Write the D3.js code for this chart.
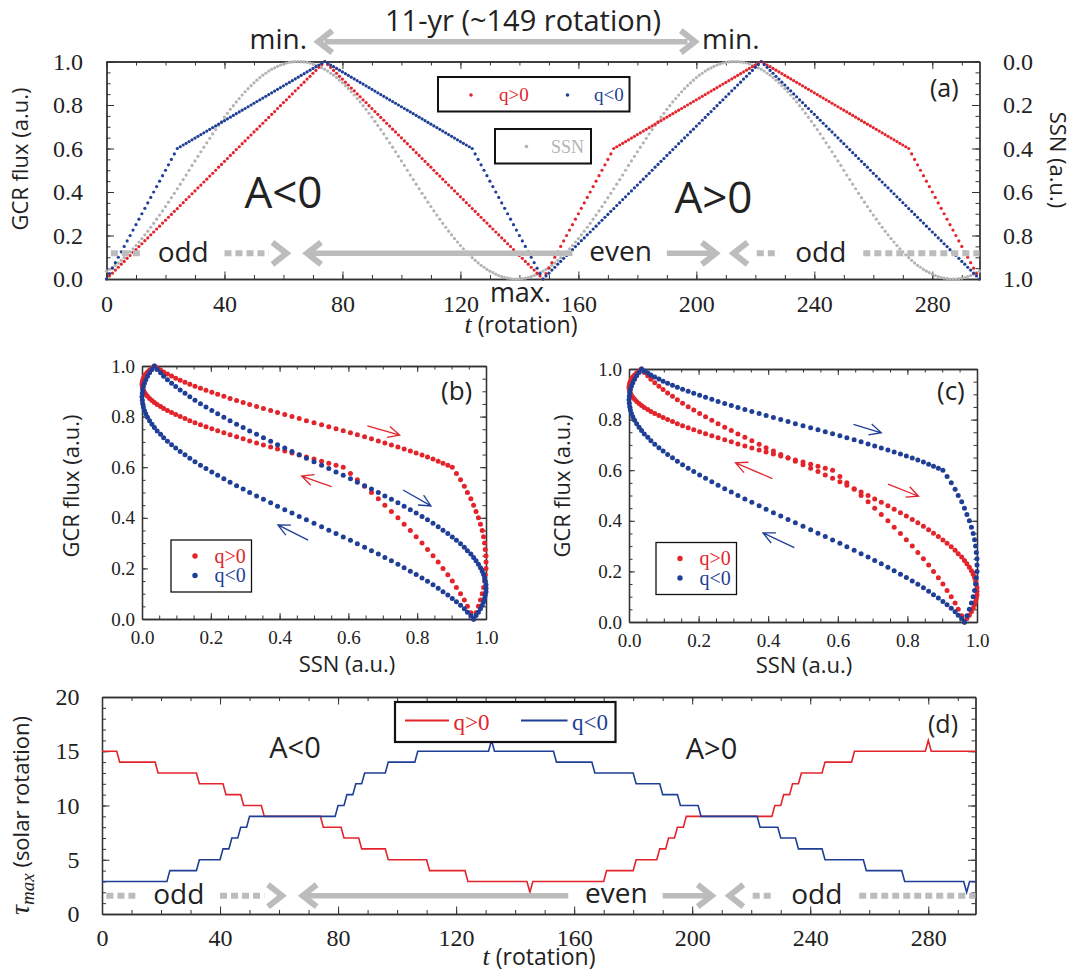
<!DOCTYPE html>
<html>
<head>
<meta charset="utf-8">
<script src="https://cdn.jsdelivr.net/npm/d3@7"></script>
<style>
  body { margin: 0; background: #fff; }
  svg { display: block; }
</style>
</head>
<body>
<svg id="fig" width="1075" height="980"></svg>
<script>
// ---------- data ----------
// one sample per solar rotation, t = 0 .. 296

// sunspot number (a.u.), grey dots of panel (a)
const ssn = [
  .964,.956,.946,.937,.926,.914,.902,.889,.875,.861,
  .846,.830,.814,.797,.780,.762,.744,.725,.706,.687,
  .667,.647,.626,.606,.585,.564,.543,.522,.500,.478,
  .457,.436,.415,.394,.374,.353,.333,.313,.294,.275,
  .256,.238,.220,.203,.186,.170,.154,.139,.125,.111,
  .098,.086,.074,.063,.054,.044,.036,.029,.022,.016,
  .011,.007,.004,.002,.001,0,
  .001,.002,.004,.007,.011,.016,.022,.029,.036,.044,
  .054,.063,.074,.086,.098,.111,.125,.139,.154,.170,
  .186,.203,.220,.238,.256,.275,.294,.313,.333,.353,
  .374,.394,.415,.436,.457,.478,.500,.522,.543,.564,
  .585,.606,.626,.647,.667,.687,.706,.725,.744,.762,
  .780,.797,.814,.830,.846,.861,.875,.889,.902,.914,
  .926,.937,.946,.956,.964,.971,.978,.984,.989,.993,
  .996,.998,1,1,
  1,.998,.996,.993,.989,.984,.978,.971,.964,.956,
  .946,.937,.926,.914,.902,.889,.875,.861,.846,.830,
  .814,.797,.780,.762,.744,.725,.706,.687,.667,.647,
  .626,.606,.585,.564,.543,.522,.500,.478,.457,.436,
  .415,.394,.374,.353,.333,.313,.294,.275,.256,.238,
  .220,.203,.186,.170,.154,.139,.125,.111,.098,.086,
  .074,.063,.054,.044,.036,.029,.022,.016,.011,.007,
  .004,.002,.001,0,
  .001,.002,.004,.007,.011,.016,.022,.029,.036,.044,
  .054,.063,.074,.086,.098,.111,.125,.139,.154,.170,
  .186,.203,.220,.238,.256,.275,.294,.313,.333,.353,
  .374,.394,.415,.436,.457,.478,.500,.522,.543,.564,
  .585,.606,.626,.647,.667,.687,.706,.725,.744,.762,
  .780,.797,.814,.830,.846,.861,.875,.889,.902,.914,
  .926,.937,.946,.956,.964,.971,.978,.984,.989,.993,
  .996,.998,1,1,
  1,.998,.996,.993,.989,.984,.978,.971,.964
];

// GCR flux (a.u.), q>0 (red)
const fluxPos = [
  0,.014,.027,.041,.054,.068,.081,.095,.108,.122,
  .135,.149,.162,.176,.189,.203,.216,.230,.243,.257,
  .270,.284,.297,.311,.324,.338,.351,.365,.378,.392,
  .405,.419,.432,.446,.459,.473,.486,.500,.514,.527,
  .541,.554,.568,.581,.595,.608,.622,.635,.649,.662,
  .676,.689,.703,.716,.730,.743,.757,.770,.784,.797,
  .811,.824,.838,.851,.865,.878,.892,.905,.919,.932,
  .946,.959,.973,.986,1,
  .986,.973,.959,.946,.932,.919,.905,.892,.878,.865,
  .851,.838,.824,.811,.797,.784,.770,.757,.743,.730,
  .716,.703,.689,.676,.662,.649,.635,.622,.608,.595,
  .581,.568,.554,.541,.527,.514,.500,.486,.473,.459,
  .446,.432,.419,.405,.392,.378,.365,.351,.338,.324,
  .311,.297,.284,.270,.257,.243,.230,.216,.203,.189,
  .176,.162,.149,.135,.122,.108,.095,.081,.068,.054,
  .041,.027,.014,0,
  .025,.050,.075,.100,.125,.150,.175,.200,.225,.250,
  .275,.300,.325,.350,.375,.400,.425,.450,.475,.500,
  .525,.550,.575,.600,
  .608,.616,.624,.632,.640,.648,.656,.664,.672,.680,
  .688,.696,.704,.712,.720,.728,.736,.744,.752,.760,
  .768,.776,.784,.792,.800,.808,.816,.824,.832,.840,
  .848,.856,.864,.872,.880,.888,.896,.904,.912,.920,
  .928,.936,.944,.952,.960,.968,.976,.984,.992,1,
  .992,.984,.976,.968,.960,.952,.944,.936,.928,.920,
  .912,.904,.896,.888,.880,.872,.864,.856,.848,.840,
  .832,.824,.816,.808,.800,.792,.784,.776,.768,.760,
  .752,.744,.736,.728,.720,.712,.704,.696,.688,.680,
  .672,.664,.656,.648,.640,.632,.624,.616,.608,.600,
  .575,.550,.525,.500,.475,.450,.425,.400,.375,.350,
  .325,.300,.275,.250,.225,.200,.175,.150,.125,.100,
  .075,.050,.025,0
];

// GCR flux (a.u.), q<0 (blue)
const fluxNeg = [
  0,.025,.050,.075,.100,.125,.150,.175,.200,.225,
  .250,.275,.300,.325,.350,.375,.400,.425,.450,.475,
  .500,.525,.550,.575,.600,
  .608,.616,.624,.632,.640,.648,.656,.664,.672,.680,
  .688,.696,.704,.712,.720,.728,.736,.744,.752,.760,
  .768,.776,.784,.792,.800,.808,.816,.824,.832,.840,
  .848,.856,.864,.872,.880,.888,.896,.904,.912,.920,
  .928,.936,.944,.952,.960,.968,.976,.984,.992,1,
  .992,.984,.976,.968,.960,.952,.944,.936,.928,.920,
  .912,.904,.896,.888,.880,.872,.864,.856,.848,.840,
  .832,.824,.816,.808,.800,.792,.784,.776,.768,.760,
  .752,.744,.736,.728,.720,.712,.704,.696,.688,.680,
  .672,.664,.656,.648,.640,.632,.624,.616,.608,.600,
  .575,.550,.525,.500,.475,.450,.425,.400,.375,.350,
  .325,.300,.275,.250,.225,.200,.175,.150,.125,.100,
  .075,.050,.025,0,
  .014,.027,.041,.054,.068,.081,.095,.108,.122,
  .135,.149,.162,.176,.189,.203,.216,.230,.243,.257,
  .270,.284,.297,.311,.324,.338,.351,.365,.378,.392,
  .405,.419,.432,.446,.459,.473,.486,.500,.514,.527,
  .541,.554,.568,.581,.595,.608,.622,.635,.649,.662,
  .676,.689,.703,.716,.730,.743,.757,.770,.784,.797,
  .811,.824,.838,.851,.865,.878,.892,.905,.919,.932,
  .946,.959,.973,.986,1,
  .986,.973,.959,.946,.932,.919,.905,.892,.878,.865,
  .851,.838,.824,.811,.797,.784,.770,.757,.743,.730,
  .716,.703,.689,.676,.662,.649,.635,.622,.608,.595,
  .581,.568,.554,.541,.527,.514,.500,.486,.473,.459,
  .446,.432,.419,.405,.392,.378,.365,.351,.338,.324,
  .311,.297,.284,.270,.257,.243,.230,.216,.203,.189,
  .176,.162,.149,.135,.122,.108,.095,.081,.068,.054,
  .041,.027,.014,0
];

// loops of panels (b) and (c): [flux series, first t, last t]
const loopB = {
  pos: [[fluxPos, 148, 296]],
  neg: [[fluxNeg, 148, 296]]
};
const loopC = {
  pos: [[fluxNeg, 0, 73], [fluxPos, 74, 148]],
  neg: [[fluxPos, 0, 73], [fluxNeg, 74, 148]]
};

// tau_max (solar rotation), corner points [t, tau] of the step lines
const tauPos = [
  [0,15],[5,15],[6,14],[18,14],[19,13],[32,13],[33,12],[41,12],[42,11],[47,11],[48,10],
  [54,10],[55,9],[74,9],[75,8],[81,8],[82,7],[87,7],[88,6],[96,6],[97,5],[110,5],[111,4],
  [123,4],[124,3],[144,3],[145,2],[146,3],[170,3],[171,4],[180,4],[181,5],[188,5],[189,6],
  [191,6],[192,7],[194,7],[195,8],[197,8],[198,9],[227,9],[228,10],[230,10],[231,11],
  [233,11],[234,12],[236,12],[237,13],[244,13],[245,14],[254,14],[255,15],[279,15],
  [280,16],[281,15],[296,15]
];
const tauNeg = [
  [0,3],[22,3],[23,4],[32,4],[33,5],[40,5],[41,6],[43,6],[44,7],[46,7],[47,8],[49,8],[50,9],
  [79,9],[80,10],[82,10],[83,11],[85,11],[86,12],[88,12],[89,13],[96,13],[97,14],[106,14],
  [107,15],[131,15],[132,16],[133,15],[153,15],[154,14],[166,14],[167,13],[180,13],[181,12],
  [189,12],[190,11],[195,11],[196,10],[202,10],[203,9],[222,9],[223,8],[229,8],[230,7],
  [235,7],[236,6],[244,6],[245,5],[258,5],[259,4],[271,4],[272,3],[292,3],[293,2],[294,3],
  [296,3]
];

// tick values
const tTicks = [0, 40, 80, 120, 160, 200, 240, 280];
const tMinor = d3.range(0, 297, 10);
const unitTicks = [0, 0.2, 0.4, 0.6, 0.8, 1.0];
const unitMinor = d3.range(0, 21).map(i => i / 20);
const tauTicks = [0, 5, 10, 15, 20];
const tauMinor = d3.range(0, 21);

// ---------- styling ----------
const RED = "#e3242b", BLUE = "#1f3f97", GREY = "#b3b3b3", ARROW = "#bcbcbc", INK = "#222";
const SERIF = "'Liberation Serif','Times New Roman',serif";
const SANS = "'Open Sans',sans-serif";

const svg = d3.select("#fig");

// box with inward ticks on four sides
function frame(x, y, o) {
  const g = svg.append("g");
  const [xl, xr] = x.range(), [yb, yt] = y.range();
  const put = (axis, tr, ticks, len, fmt, pad) => {
    const a = g.append("g").attr("transform", tr)
      .call(axis.tickValues(ticks).tickSize(-len).tickSizeOuter(0)
        .tickPadding(pad || 3).tickFormat(fmt || (() => "")));
    a.attr("font-family", SERIF).attr("font-size", o.fs).attr("color", "#333");
    a.select(".domain").attr("stroke-width", 1.3);
    a.selectAll("text").attr("fill", INK);
  };
  const y2 = o.y2 || y;
  put(d3.axisBottom(x), `translate(0,${yb})`, o.xMinor, o.minor);
  put(d3.axisBottom(x), `translate(0,${yb})`, o.xMajor, o.major, o.xFmt, o.xPad);
  put(d3.axisTop(x), `translate(0,${yt})`, o.xMinor, o.minor);
  put(d3.axisTop(x), `translate(0,${yt})`, o.xMajor, o.major);
  put(d3.axisLeft(y), `translate(${xl},0)`, o.yMinor, o.minor);
  put(d3.axisLeft(y), `translate(${xl},0)`, o.yMajor, o.major, o.yFmt, o.yPad);
  put(d3.axisRight(y2), `translate(${xr},0)`, o.yMinor, o.minor);
  put(d3.axisRight(y2), `translate(${xr},0)`, o.yMajor, o.major, o.y2Fmt, o.yPad);
  return g;
}

function text(x, y, s, o) {
  return svg.append("text").attr("x", x).attr("y", y)
    .attr("font-family", o.ff || SANS).attr("font-size", o.fs)
    .attr("fill", o.fill || INK).attr("text-anchor", o.anchor || "start")
    .attr("font-style", o.italic ? "italic" : null).text(s);
}

function vtext(x, y, s, fs, rot) {
  return svg.append("text").attr("transform", `translate(${x},${y}) rotate(${rot || -90})`)
    .attr("text-anchor", "middle").attr("font-family", SANS).attr("font-size", fs)
    .attr("fill", INK).text(s);
}

function tTitle(x, y, fs) {
  const t = svg.append("text").attr("x", x).attr("y", y).attr("text-anchor", "middle")
    .attr("font-family", SANS).attr("font-size", fs).attr("fill", INK);
  t.append("tspan").attr("font-family", SERIF).attr("font-style", "italic").attr("font-size", fs + 3).text("t");
  t.append("tspan").text(" (rotation)");
}

// grey annotation arrows
function bar(x, t0, t1, y, dotted) {
  svg.append("line").attr("x1", x(t0)).attr("x2", x(t1)).attr("y1", y).attr("y2", y)
    .attr("stroke", ARROW).attr("stroke-width", dotted ? 6 : 5.5)
    .attr("stroke-dasharray", dotted ? "7,4" : null);
}
function chevron(x, t, y, dir) {
  // dir = +1 points right, -1 points left
  const px = x(t), dx = 14 * dir, dy = 11;
  svg.append("path").attr("d", `M${px - dx},${y - dy}L${px},${y}L${px - dx},${y + dy}`)
    .attr("fill", "none").attr("stroke", ARROW).attr("stroke-width", 6);
}
function cycleRow(x, y, fs) {
  bar(x, 1.5, 11.3, y, true);
  text(x(26), y + 8.5, "odd", { fs, anchor: "middle" });
  bar(x, 40, 55, y, true);
  chevron(x, 61, y, 1);
  chevron(x, 68, y, -1);
  bar(x, 69, 158, y, false);
  text(x(174.3), y + 7.5, "even", { fs, anchor: "middle" });
  bar(x, 190, 205.5, y, false);
  chevron(x, 206.6, y, 1);
  chevron(x, 212.6, y, -1);
  bar(x, 220.5, 228, y, true);
  text(x(242.2), y + 8.5, "odd", { fs, anchor: "middle" });
  bar(x, 256.6, 296, y, true);
}

// ---------- panel (a) ----------
const xA = d3.scaleLinear([0, 296], [106.5, 979.5]);
const yA = d3.scaleLinear([0, 1], [279, 61.5]);
const ssnA = d3.scaleLinear([0, 1], [61.5, 279]);

frame(xA, yA, {
  fs: 24, major: 7.5, minor: 4,
  xMajor: tTicks, xMinor: tMinor, xFmt: d3.format("d"), xPad: 16,
  yMajor: unitTicks, yMinor: unitMinor, yFmt: d3.format(".1f"), yPad: 23.5,
  y2: ssnA, y2Fmt: d3.format(".1f")
});

const ts = d3.range(ssn.length);
const dotsA = svg.append("g");
dotsA.selectAll(".s").data(ts).join("circle")
  .attr("cx", t => xA(t)).attr("cy", t => ssnA(ssn[t])).attr("r", 1.6).attr("fill", GREY);
dotsA.selectAll(".p").data(ts).join("circle")
  .attr("cx", t => xA(t)).attr("cy", t => yA(fluxPos[t])).attr("r", 1.6).attr("fill", RED);
dotsA.selectAll(".n").data(ts).join("circle")
  .attr("cx", t => xA(t)).attr("cy", t => yA(fluxNeg[t])).attr("r", 1.6).attr("fill", BLUE);

// legends of (a)
svg.append("rect").attr("x", 438).attr("y", 77).attr("width", 191.5).attr("height", 34.5)
  .attr("fill", "#fff").attr("stroke", "#111").attr("stroke-width", 2);
svg.append("circle").attr("cx", 471).attr("cy", 95).attr("r", 1.8).attr("fill", RED);
text(499, 100.5, "q>0", { ff: SERIF, fs: 19, fill: RED });
svg.append("circle").attr("cx", 567.5).attr("cy", 95).attr("r", 1.8).attr("fill", BLUE);
text(594, 100.5, "q<0", { ff: SERIF, fs: 19, fill: BLUE });

svg.append("rect").attr("x", 495).attr("y", 129).attr("width", 96).attr("height", 34.5)
  .attr("fill", "#fff").attr("stroke", "#111").attr("stroke-width", 2);
svg.append("circle").attr("cx", 526.5).attr("cy", 146.5).attr("r", 1.8).attr("fill", GREY);
text(551, 152.5, "SSN", { ff: SERIF, fs: 18, fill: GREY });

// annotations of (a)
text(523, 31, "11-yr (~149 rotation)", { fs: 29, anchor: "middle" });
bar(xA, 74, 197, 41.7, false);
chevron(xA, 71.8, 41.7, -1);
chevron(xA, 199.5, 41.7, 1);
text(307, 49, "min.", { fs: 28, anchor: "end" });
text(702, 49, "min.", { fs: 28 });
text(xA(60), 208, "A<0", { fs: 44, anchor: "middle" });
text(xA(205.8), 213, "A>0", { fs: 44, anchor: "middle" });
text(930, 97, "(a)", { fs: 25 });
cycleRow(xA, 253.3, 28);
text(520.5, 302, "max.", { fs: 27, anchor: "middle" });
tTitle(521, 333, 23);
vtext(28, 159, "GCR flux (a.u.)", 22);
vtext(1050, 160, "SSN (a.u.)", 22, 90);

// ---------- panels (b) and (c) ----------
function loopPanel(x, y, loop) {
  frame(x, y, {
    fs: 19, major: 6, minor: 3.5,
    xMajor: unitTicks, xMinor: unitMinor, xFmt: d3.format(".1f"), xPad: 12,
    yMajor: unitTicks, yMinor: unitMinor, yFmt: d3.format(".1f"), yPad: 7
  });
  const pairs = parts => parts.flatMap(([f, a, b]) => d3.range(a, b + 1).map(t => [ssn[t], f[t]]));
  const g = svg.append("g");
  g.selectAll(".p").data(pairs(loop.pos)).join("circle")
    .attr("cx", d => x(d[0])).attr("cy", d => y(d[1])).attr("r", 2.5).attr("fill", RED);
  g.selectAll(".n").data(pairs(loop.neg)).join("circle")
    .attr("cx", d => x(d[0])).attr("cy", d => y(d[1])).attr("r", 2.5).attr("fill", BLUE);
}

function loopArrow(x, y, from, to, color) {
  const x0 = x(from[0]), y0 = y(from[1]), x1 = x(to[0]), y1 = y(to[1]);
  const a = Math.atan2(y1 - y0, x1 - x0), L = 13, s = 0.45;
  const p = da => [x1 - L * Math.cos(a + da), y1 - L * Math.sin(a + da)];
  const [l, r] = [p(s), p(-s)];
  svg.append("path").attr("d", `M${x0},${y0}L${x1},${y1}M${l}L${x1},${y1}L${r}`)
    .attr("fill", "none").attr("stroke", color).attr("stroke-width", 1.3);
}

function loopLegend(x, y) {
  svg.append("rect").attr("x", x).attr("y", y).attr("width", 80.5).attr("height", 52)
    .attr("fill", "#fff").attr("stroke", "#111").attr("stroke-width", 1.3);
  svg.append("circle").attr("cx", x + 24).attr("cy", y + 16).attr("r", 2.7).attr("fill", RED);
  text(x + 43.5, y + 22.5, "q>0", { ff: SERIF, fs: 20, fill: RED });
  svg.append("circle").attr("cx", x + 24).attr("cy", y + 35.5).attr("r", 2.7).attr("fill", BLUE);
  text(x + 43.5, y + 42, "q<0", { ff: SERIF, fs: 20, fill: BLUE });
}

const xB = d3.scaleLinear([0, 1], [142, 486]);
const yB = d3.scaleLinear([0, 1], [619, 366]);
loopPanel(xB, yB, loopB);
loopArrow(xB, yB, [0.655, 0.763], [0.749, 0.727], RED);
loopArrow(xB, yB, [0.551, 0.523], [0.464, 0.565], RED);
loopArrow(xB, yB, [0.759, 0.51], [0.84, 0.447], BLUE);
loopArrow(xB, yB, [0.483, 0.312], [0.395, 0.372], BLUE);
loopLegend(171, 540);
text(441, 400, "(b)", { fs: 26 });
vtext(79, 486, "GCR flux (a.u.)", 22);
text(347, 672, "SSN (a.u.)", { fs: 22, anchor: "middle" });

const xC = d3.scaleLinear([0, 1], [629, 977]);
const yC = d3.scaleLinear([0, 1], [622, 369]);
loopPanel(xC, yC, loopC);
loopArrow(xC, yC, [0.645, 0.781], [0.725, 0.748], BLUE);
loopArrow(xC, yC, [0.412, 0.567], [0.306, 0.629], RED);
loopArrow(xC, yC, [0.744, 0.545], [0.832, 0.497], RED);
loopArrow(xC, yC, [0.475, 0.294], [0.385, 0.352], BLUE);
loopLegend(656, 542.5);
text(937, 400, "(c)", { fs: 26 });
vtext(570, 486, "GCR flux (a.u.)", 22);
text(804, 673, "SSN (a.u.)", { fs: 22, anchor: "middle" });

// ---------- panel (d) ----------
const xD = d3.scaleLinear([0, 296], [102, 975.5]);
const yD = d3.scaleLinear([0, 20], [914, 697]);

frame(xD, yD, {
  fs: 24, major: 7.5, minor: 4,
  xMajor: tTicks, xMinor: tMinor, xFmt: d3.format("d"), xPad: 15,
  yMajor: tauTicks, yMinor: tauMinor, yFmt: d3.format("d"), yPad: 22.5
});

const stepLine = d3.line().x(d => xD(d[0])).y(d => yD(d[1]));
svg.append("path").attr("d", stepLine(tauPos)).attr("fill", "none").attr("stroke", RED).attr("stroke-width", 1.6);
svg.append("path").attr("d", stepLine(tauNeg)).attr("fill", "none").attr("stroke", BLUE).attr("stroke-width", 1.6);

svg.append("rect").attr("x", 395).attr("y", 702).attr("width", 220.5).attr("height", 40)
  .attr("fill", "#fff").attr("stroke", "#111").attr("stroke-width", 2.2);
svg.append("line").attr("x1", 405).attr("x2", 449).attr("y1", 720.5).attr("y2", 720.5)
  .attr("stroke", RED).attr("stroke-width", 1.8);
text(453.5, 730, "q>0", { ff: SERIF, fs: 23, fill: RED });
svg.append("line").attr("x1", 521).attr("x2", 567.5).attr("y1", 720.5).attr("y2", 720.5)
  .attr("stroke", BLUE).attr("stroke-width", 1.8);
text(572, 730, "q<0", { ff: SERIF, fs: 23, fill: BLUE });

text(928, 733, "(d)", { fs: 25 });
text(295, 758, "A<0", { fs: 29, anchor: "middle" });
text(711.5, 759, "A>0", { fs: 29, anchor: "middle" });
cycleRow(xD, 895.7, 28);
tTitle(539, 965, 23);

const tau = svg.append("text").attr("transform", "translate(29,815.5) rotate(-90)")
  .attr("text-anchor", "middle").attr("font-family", SANS).attr("font-size", 22).attr("fill", INK);
tau.append("tspan").attr("font-family", SERIF).attr("font-style", "italic").attr("font-size", 28).text("τ");
tau.append("tspan").attr("font-family", SERIF).attr("font-style", "italic").attr("font-size", 19)
  .attr("dy", 5).text("max");
tau.append("tspan").attr("dy", -5).text(" (solar rotation)");
</script>
</body>
</html>
